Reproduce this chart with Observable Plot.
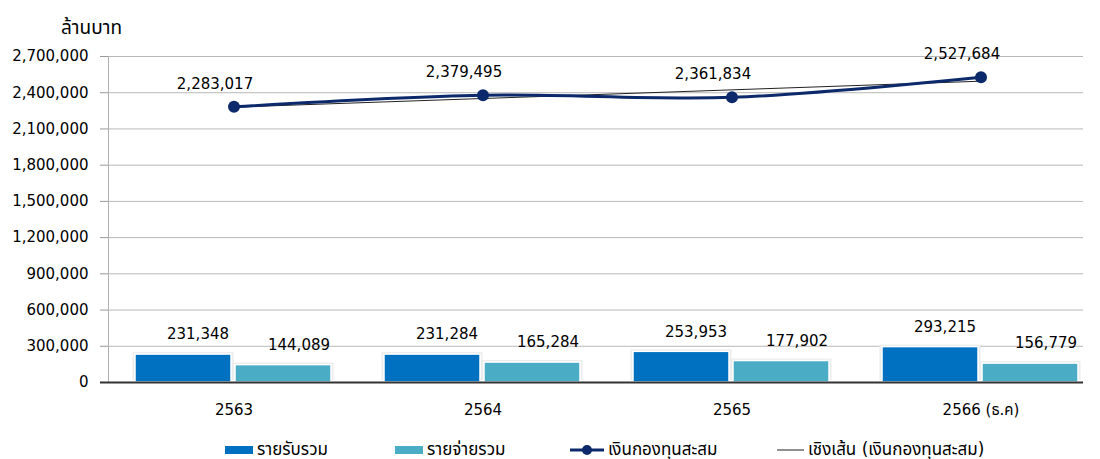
<!DOCTYPE html>
<html><head><meta charset="utf-8">
<script src="https://cdn.jsdelivr.net/npm/d3@7"></script>
<script src="https://cdn.jsdelivr.net/npm/@observablehq/plot@0.6"></script>
<style>
body{margin:0;background:#fff;font-family:"DejaVu Sans","Noto Sans Thai","Noto Sans",sans-serif;}
#chart svg{display:block;overflow:visible;}
#legend{position:relative;height:34px;font-size:17px;color:#000;}
.item{position:absolute;top:15px;display:flex;align-items:center;height:20px;white-space:nowrap;}
.item svg{margin-right:4px;display:block;}
</style></head><body><div id="chart"></div><div id="legend"></div>
<script>
const years = ["2563","2564","2565","2566 (ธ.ค)"];
const income = [231348, 231284, 253953, 293215];
const expense = [144089, 165284, 177902, 156779];
const fund = [2283017, 2379495, 2361834, 2527684];
const yTicks = [0,300000,600000,900000,1200000,1500000,1800000,2100000,2400000,2700000];
const seriesNames = ["รายรับรวม","รายจ่ายรวม","เงินกองทุนสะสม","เชิงเส้น (เงินกองทุนสะสม)"];
const unitLabel = "ล้านบาท";
const colors = {income:"#0070C0", expense:"#4BACC6", fund:"#0C2A6B", trend:"#222"};

const fmt = d3.format(",");
// linear trendline of fund over category index
const n = fund.length, mx = d3.mean(d3.range(n)), my = d3.mean(fund);
const slope = d3.sum(fund, (v,i)=>(i-mx)*(v-my)) / d3.sum(d3.range(n), i=>(i-mx)**2);
const rows = years.map((y,i)=>({year:y, income:income[i], expense:expense[i], fund:fund[i], trend: my + slope*(i-mx)}));

const chart = Plot.plot({
  width:1100, height:425, marginLeft:108, marginRight:-6, marginTop:56, marginBottom:43,
  style:{fontFamily:'"DejaVu Sans","Noto Sans Thai","Noto Sans",sans-serif', fontSize:"15px", color:"#000", background:"#fff"},
  x:{domain:years, padding:0, label:null},
  y:{domain:[0,2700000], label:null},
  marks:[
    Plot.ruleY(yTicks.slice(1), {stroke:"#b8b8b8", strokeWidth:1, insetRight:23}),
    Plot.frame({anchor:"left", stroke:"#b0b0b0"}),
    Plot.axisY({ticks:yTicks, tickFormat:fmt, tickSize:8, tickPadding:12, stroke:"#999", fill:"#000", label:null, fontSize:15}),
    Plot.axisX({tickSize:0, tickPadding:22, label:null, fontSize:15, fill:"#000"}),
    Plot.barY(rows, {x:"year", y:"income", fill:"#ececec", insetLeft:23.5, insetRight:124.5, dy:-2}),
    Plot.barY(rows, {x:"year", y:"expense", fill:"#ececec", insetLeft:123.5, insetRight:24.5, dy:-2}),
    Plot.barY(rows, {x:"year", y:"income", fill:colors.income, stroke:"#fff", strokeWidth:1.5, insetLeft:26, insetRight:127}),
    Plot.barY(rows, {x:"year", y:"expense", fill:colors.expense, stroke:"#fff", strokeWidth:1.5, insetLeft:126, insetRight:27}),
    Plot.ruleY([0], {stroke:"#333", strokeWidth:2, insetLeft:-8, insetRight:23}),
    Plot.text(rows, {x:"year", y:"income", text:d=>fmt(d.income), dx:-36, dy:-20, fontSize:15}),
    Plot.text(rows, {x:"year", y:"expense", text:d=>fmt(d.expense), dx:65, dy:-20, fontSize:15}),
    Plot.line(rows, {x:"year", y:"trend", stroke:colors.trend, strokeWidth:1}),
    Plot.line(rows, {x:"year", y:"fund", stroke:colors.fund, strokeWidth:3, curve:"catmull-rom"}),
    Plot.dot(rows, {x:"year", y:"fund", r:6, fill:colors.fund, stroke:null}),
    Plot.text(rows, {x:"year", y:"fund", text:d=>fmt(d.fund), dx:-19, dy:-23, fontSize:15}),
    Plot.text([unitLabel], {frameAnchor:"top-left", dx:-17, dy:-36, fontSize:19, textAnchor:"middle"})
  ]
});
document.getElementById("chart").append(chart);

const sw = [
  `<svg width="28" height="8"><rect x="0" y="0" width="28" height="8" fill="${colors.income}"/></svg>`,
  `<svg width="28" height="8"><rect x="0" y="0" width="28" height="8" fill="${colors.expense}"/></svg>`,
  `<svg width="34" height="12"><line x1="0" x2="34" y1="6" y2="6" stroke="${colors.fund}" stroke-width="3"/><circle cx="17" cy="6" r="5" fill="${colors.fund}"/></svg>`,
  `<svg width="27" height="4"><line x1="0" x2="27" y1="2" y2="2" stroke="${colors.trend}" stroke-width="1"/></svg>`
];
const legendLeft = [225, 395, 570, 777];
const legend = document.getElementById("legend");
seriesNames.forEach((name,i)=>{
  const d = document.createElement("div");
  d.className = "item";
  d.style.left = legendLeft[i] + "px";
  d.innerHTML = sw[i] + `<span>${name}</span>`;
  legend.append(d);
});
</script></body></html>
